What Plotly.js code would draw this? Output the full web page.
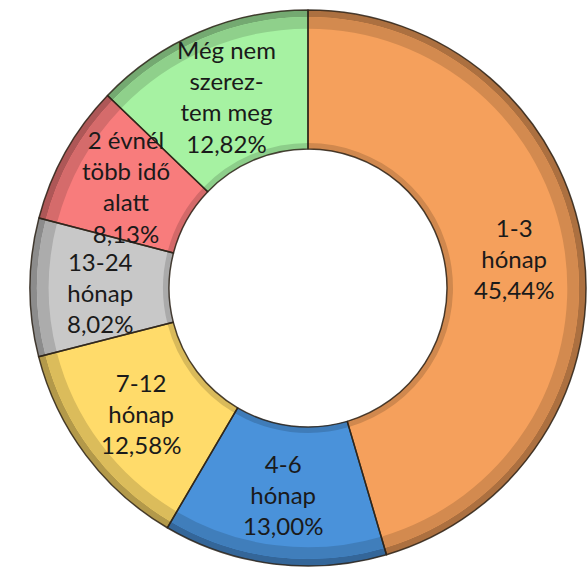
<!DOCTYPE html>
<html>
<head>
<meta charset="utf-8">
<script src="https://cdn.plot.ly/plotly-3.0.1.min.js"></script>
<style>html,body{margin:0;padding:0;background:#fff;}#chart{width:587px;height:571px;}</style>
</head>
<body>
<div id="chart"></div>
<script>
// Data
const categories = ["1-3 hónap", "4-6 hónap", "7-12 hónap", "13-24 hónap", "2 évnél több idő alatt", "Még nem szereztem meg"];
const values = [45.44, 13.00, 12.58, 8.02, 8.13, 12.82];
const labelTexts = ["1-3<br>hónap<br>45,44%", "4-6<br>hónap<br>13,00%", "7-12<br>hónap<br>12,58%", "13-24<br>hónap<br>8,02%", "2 évnél<br>több idő<br>alatt<br>8,13%", "Még nem<br>szerez-<br>tem meg<br>12,82%"];
const colors = ["#F5A05C", "#4A92DA", "#FFDB6A", "#C8C8C8", "#F87C7C", "#A6F2A2"];

// Layout geometry
const W = 587, H = 571;
const CX = 308, CY = 288, R = 278;
const HOLE = 0.5;

function shade(hex, f) {
  const n = parseInt(hex.slice(1), 16);
  const r = Math.round(((n >> 16) & 255) * f), g = Math.round(((n >> 8) & 255) * f), b = Math.round((n & 255) * f);
  return `rgb(${r},${g},${b})`;
}
function domainFor(radius) {
  return {
    x: [(CX - radius) / W, (CX + radius) / W],
    y: [(H - (CY + radius)) / H, (H - (CY - radius)) / H]
  };
}
function pieTrace(hole, radius, cols, line, hover) {
  return {
    type: "pie",
    values: values,
    labels: categories,
    sort: false,
    direction: "clockwise",
    rotation: 0,
    hole: hole,
    domain: domainFor(radius),
    marker: { colors: cols, line: line },
    textinfo: "none",
    hoverinfo: hover,
    showlegend: false
  };
}

const noLine = { color: "rgba(0,0,0,0)", width: 0 };
const main = pieTrace(HOLE, R, colors, noLine, "label+percent");
// outer shadow rim (bevel imitation)
const rim = pieTrace((R - 7) / R, R, colors.map(c => shade(c, 0.7)), noLine, "skip");
const rim2 = pieTrace((R - 12) / R, R - 7, colors.map(c => shade(c, 0.86)), noLine, "skip");
// inner rim
const rIn = R * HOLE + 6;
const innerRim = pieTrace((R * HOLE) / rIn, rIn, colors.map(c => shade(c, 0.85)), noLine, "skip");
// slice separators / outlines
const outline = pieTrace(HOLE, R, colors.map(() => "rgba(0,0,0,0)"), { color: "rgba(45,35,25,0.85)", width: 1.5 }, "skip");

// labels at slice centroids (computed from values)
const total = values.reduce((a, b) => a + b, 0);
const rMid = R * (1 + HOLE) / 2;
let cum = 0;
const annotations = values.map((v, i) => {
  const mid = (cum + v / 2) / total * 2 * Math.PI;
  cum += v;
  const px = CX + rMid * Math.sin(mid);
  const py = CY - rMid * Math.cos(mid);
  return {
    x: px / W, y: 1 - py / H, xref: "paper", yref: "paper",
    text: labelTexts[i], showarrow: false,
    xanchor: "center", yanchor: "middle",
    yshift: i === 3 ? -5 : 0,
    borderpad: 0,
    font: { family: "Lato, 'Noto Sans', sans-serif", size: 24, color: "#1a1a1a" }
  };
});

const layout = {
  width: W, height: H,
  margin: { l: 0, r: 0, t: 0, b: 0 },
  paper_bgcolor: "#ffffff",
  showlegend: false,
  annotations: annotations
};

Plotly.newPlot("chart", [main, rim, rim2, innerRim, outline], layout, { displayModeBar: false, staticPlot: true });
</script>
</body>
</html>
